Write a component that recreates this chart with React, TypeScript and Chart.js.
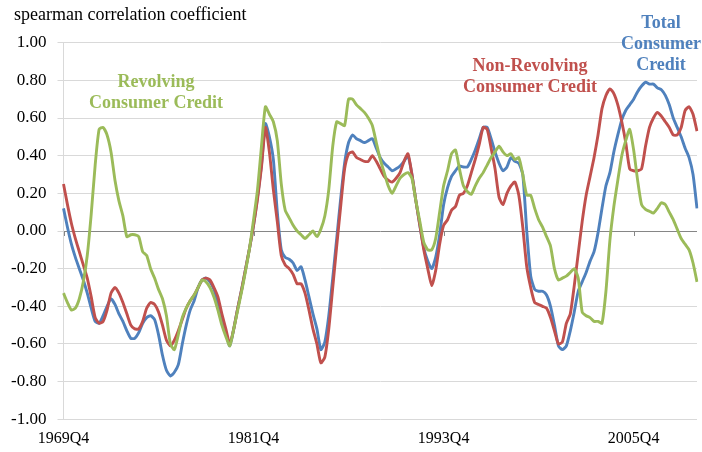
import React, { useEffect, useRef } from "react";
import { Chart, registerables } from "chart.js";

Chart.register(...registerables);

const START_YEAR = 1969;
const START_Q = 4;
const N_POINTS = 161;
const quarterLabels: string[] = [];
for (let i = 0; i < N_POINTS; i++) {
  const q0 = START_Q - 1 + i;
  quarterLabels.push(`${START_YEAR + Math.floor(q0 / 4)}Q${(q0 % 4) + 1}`);
}
const tickEvery = 48;

const totalCredit = [
  0.12, 0.02, -0.07, -0.14, -0.2, -0.26, -0.33, -0.41, -0.48, -0.49,
  -0.45, -0.4, -0.36, -0.39, -0.44, -0.48, -0.53, -0.57, -0.57, -0.54,
  -0.49, -0.46, -0.45, -0.47, -0.55, -0.66, -0.74, -0.77, -0.75, -0.71,
  -0.6, -0.5, -0.42, -0.37, -0.3, -0.26, -0.25, -0.27, -0.31, -0.38,
  -0.46, -0.54, -0.61, -0.52, -0.41, -0.31, -0.2, -0.09, 0.03, 0.18,
  0.35, 0.57, 0.5, 0.38, 0.1, -0.1, -0.14, -0.15, -0.17, -0.21,
  -0.19, -0.26, -0.35, -0.44, -0.52, -0.63, -0.59, -0.45, -0.25, -0.04,
  0.17, 0.36, 0.47, 0.51, 0.49, 0.48, 0.47, 0.48, 0.49, 0.44,
  0.39, 0.36, 0.34, 0.32, 0.33, 0.345, 0.37, 0.4, 0.3, 0.16,
  0.03, -0.09, -0.16, -0.2, -0.14, -0.02, 0.14, 0.23, 0.29, 0.32,
  0.345, 0.34, 0.34, 0.38, 0.43, 0.49, 0.55, 0.55, 0.49, 0.42,
  0.36, 0.32, 0.34, 0.39, 0.37, 0.36, 0.3, 0.0, -0.24, -0.31,
  -0.32, -0.32, -0.34, -0.4, -0.5, -0.61, -0.63, -0.61, -0.53, -0.43,
  -0.32, -0.27, -0.22, -0.16, -0.11, -0.01, 0.12, 0.24, 0.31, 0.42,
  0.51, 0.59, 0.64, 0.67, 0.7, 0.74, 0.77, 0.79, 0.78, 0.78,
  0.76, 0.75, 0.72, 0.67, 0.6, 0.55, 0.5, 0.44, 0.39, 0.3,
  0.12,
];

const nonRevolving = [
  0.25, 0.14, 0.04, -0.04, -0.11, -0.18, -0.25, -0.35, -0.46, -0.49,
  -0.48, -0.42, -0.33, -0.3, -0.33, -0.38, -0.44, -0.5, -0.52, -0.52,
  -0.48, -0.41, -0.38, -0.39, -0.43, -0.5, -0.58, -0.61, -0.58, -0.53,
  -0.47, -0.41, -0.37, -0.34, -0.3, -0.26, -0.25, -0.26, -0.3, -0.35,
  -0.44, -0.52, -0.6, -0.52, -0.41, -0.31, -0.2, -0.09, 0.03, 0.17,
  0.34, 0.55, 0.42, 0.22, 0.05, -0.13, -0.18, -0.2, -0.23, -0.28,
  -0.28, -0.33, -0.42, -0.52, -0.6, -0.7, -0.67, -0.52, -0.3, -0.08,
  0.13, 0.33, 0.41, 0.42, 0.39, 0.38, 0.37, 0.37, 0.4, 0.37,
  0.33, 0.29, 0.27, 0.26, 0.28, 0.31, 0.37, 0.41, 0.3, 0.16,
  0.03, -0.1, -0.2, -0.29, -0.21, -0.07, 0.03, 0.06, 0.11, 0.13,
  0.19, 0.2, 0.24, 0.31, 0.38, 0.46, 0.55, 0.54, 0.44, 0.33,
  0.18, 0.14, 0.2, 0.24, 0.26, 0.19, 0.02, -0.19, -0.3, -0.38,
  -0.39, -0.4, -0.41, -0.46, -0.53, -0.6, -0.59, -0.49, -0.44, -0.29,
  -0.12, 0.05, 0.19, 0.29, 0.39, 0.51, 0.65, 0.72, 0.755, 0.73,
  0.67, 0.58, 0.47, 0.33, 0.32, 0.32, 0.33, 0.45, 0.55, 0.6,
  0.63, 0.61, 0.58, 0.55, 0.51, 0.51, 0.55, 0.64, 0.66, 0.62,
  0.53,
];

const revolving = [
  -0.33, -0.38, -0.42, -0.41, -0.36, -0.27, -0.13, 0.09, 0.35, 0.54,
  0.55, 0.51, 0.42, 0.27, 0.16, 0.08, -0.03, -0.02, -0.02, -0.03,
  -0.11, -0.13, -0.2, -0.25, -0.31, -0.36, -0.45, -0.6, -0.63, -0.55,
  -0.46, -0.41, -0.37, -0.34, -0.3, -0.26, -0.27, -0.3, -0.35, -0.42,
  -0.5, -0.56, -0.61, -0.52, -0.42, -0.32, -0.21, -0.09, 0.06, 0.22,
  0.45, 0.66, 0.62, 0.58, 0.48, 0.25, 0.11, 0.07, 0.03, 0.0,
  -0.02, -0.04, -0.02, 0.0, -0.03, 0.01, 0.08, 0.22, 0.45, 0.58,
  0.57, 0.56, 0.7, 0.7, 0.67, 0.65, 0.63, 0.6, 0.56, 0.47,
  0.38, 0.31, 0.24, 0.2, 0.24, 0.28, 0.3, 0.31, 0.28, 0.16,
  0.05, -0.06, -0.1, -0.1, -0.04, 0.1, 0.24, 0.32, 0.41, 0.43,
  0.33, 0.24, 0.21, 0.195, 0.24, 0.28, 0.31, 0.35, 0.39, 0.42,
  0.45, 0.42, 0.4, 0.41, 0.38, 0.39, 0.3, 0.19, 0.19, 0.12,
  0.06, 0.02, -0.03, -0.08, -0.2, -0.26, -0.25, -0.24, -0.22, -0.2,
  -0.25, -0.43, -0.45, -0.46, -0.48, -0.48, -0.49, -0.32, -0.05, 0.13,
  0.27, 0.4, 0.48, 0.54, 0.43, 0.27, 0.14, 0.115, 0.105, 0.095,
  0.12, 0.15, 0.14, 0.1, 0.06, 0.01, -0.04, -0.07, -0.1, -0.17,
  -0.27,
];

const yTicks = [-1, -0.8, -0.6, -0.4, -0.2, 0, 0.2, 0.4, 0.6, 0.8, 1];

const BLUE = "#4F81BD";
const RED = "#C0504D";
const GREEN = "#9BBB59";
const SERIF = '"Liberation Serif", "Times New Roman", serif';

const titleText = "spearman correlation coefficient";
const seriesNotes = [
  { lines: ["Revolving", "Consumer Credit"], color: GREEN, x: 156, y: [87, 108] },
  { lines: ["Non-Revolving", "Consumer Credit"], color: RED, x: 530, y: [71, 92] },
  { lines: ["Total", "Consumer", "Credit"], color: BLUE, x: 661, y: [28, 49, 70] },
];

const textPlugin = {
  id: "textPlugin",
  afterDatasetsDraw(chart: any) {
    const ctx = chart.ctx;
    ctx.save();
    const xs = chart.scales.x;
    const ys = chart.scales.y;
    const y0 = ys.getPixelForValue(0);
    ctx.strokeStyle = "#868686";
    ctx.lineWidth = 1;
    for (let i = 0; i < quarterLabels.length; i += tickEvery) {
      const px = Math.round(xs.getPixelForValue(i)) + 0.5;
      ctx.beginPath();
      ctx.moveTo(px, y0);
      ctx.lineTo(px, y0 + 5);
      ctx.stroke();
    }
    ctx.fillStyle = "#000";
    ctx.font = `18px ${SERIF}`;
    ctx.textAlign = "left";
    ctx.textBaseline = "alphabetic";
    ctx.fillText(titleText, 14, 19.5);
    ctx.textAlign = "center";
    ctx.font = `bold 18px ${SERIF}`;
    for (const n of seriesNotes) {
      ctx.fillStyle = n.color;
      n.lines.forEach((t, k) => ctx.fillText(t, n.x, n.y[k]));
    }
    ctx.restore();
  },
};

export default function App() {
  const ref = useRef<HTMLCanvasElement>(null);
  useEffect(() => {
    if (!ref.current) return;
    const ds = (label: string, data: number[], color: string) => ({
      label,
      data,
      borderColor: color,
      backgroundColor: color,
      borderWidth: 2.9,
      pointRadius: 0,
      tension: 0.2,
      fill: false,
    });
    const chart = new Chart(ref.current, {
      type: "line",
      data: {
        labels: quarterLabels,
        datasets: [
          ds("Revolving Consumer Credit", revolving, GREEN),
          ds("Non-Revolving Consumer Credit", nonRevolving, RED),
          ds("Total Consumer Credit", totalCredit, BLUE),
        ],
      },
      options: {
        responsive: false,
        animation: false,
        devicePixelRatio: 1,
        layout: { padding: { top: 42.7, right: 5, bottom: 0, left: 0 } },
        plugins: { legend: { display: false }, tooltip: { enabled: false }, title: { display: false } },
        scales: {
          x: {
            type: "category",
            offset: false,
            grid: { display: false, drawTicks: false },
            border: { display: false },
            ticks: {
              autoSkip: false,
              maxRotation: 0,
              minRotation: 0,
              padding: 10,
              color: "#000",
              font: { family: SERIF, size: 16 },
              callback: (_v: any, i: number) => (i % tickEvery === 0 ? quarterLabels[i] : null),
            },
            afterFit: (s: any) => {
              s.height = 32.7;
            },
          },
          y: {
            min: -1,
            max: 1,
            afterBuildTicks: (s: any) => {
              s.ticks = yTicks.map((v) => ({ value: v }));
            },
            grid: {
              color: (c: any) => (Math.abs(c.tick?.value ?? 1) < 1e-9 ? "#868686" : "#d9d9d9"),
              lineWidth: 1,
              drawTicks: true,
              tickLength: 6,
              tickColor: "#d9d9d9",
            },
            border: { display: true, color: "#d9d9d9", width: 1 },
            ticks: {
              padding: 11,
              color: "#000",
              font: { family: SERIF, size: 17 },
              callback: (v: any) => {
                const n = Number(v);
                return Math.abs(n) < 1e-9 ? "0.00" : n.toFixed(2);
              },
            },
            afterFit: (s: any) => {
              s.width = 63.5;
            },
          },
        },
      },
      plugins: [textPlugin],
    } as any);
    return () => chart.destroy();
  }, []);
  return (
    <div style={{ position: "fixed", left: 0, top: 0, width: 702, height: 452, background: "#fff" }}>
      <canvas ref={ref} width={702} height={452} style={{ width: 702, height: 452, display: "block" }} />
    </div>
  );
}
